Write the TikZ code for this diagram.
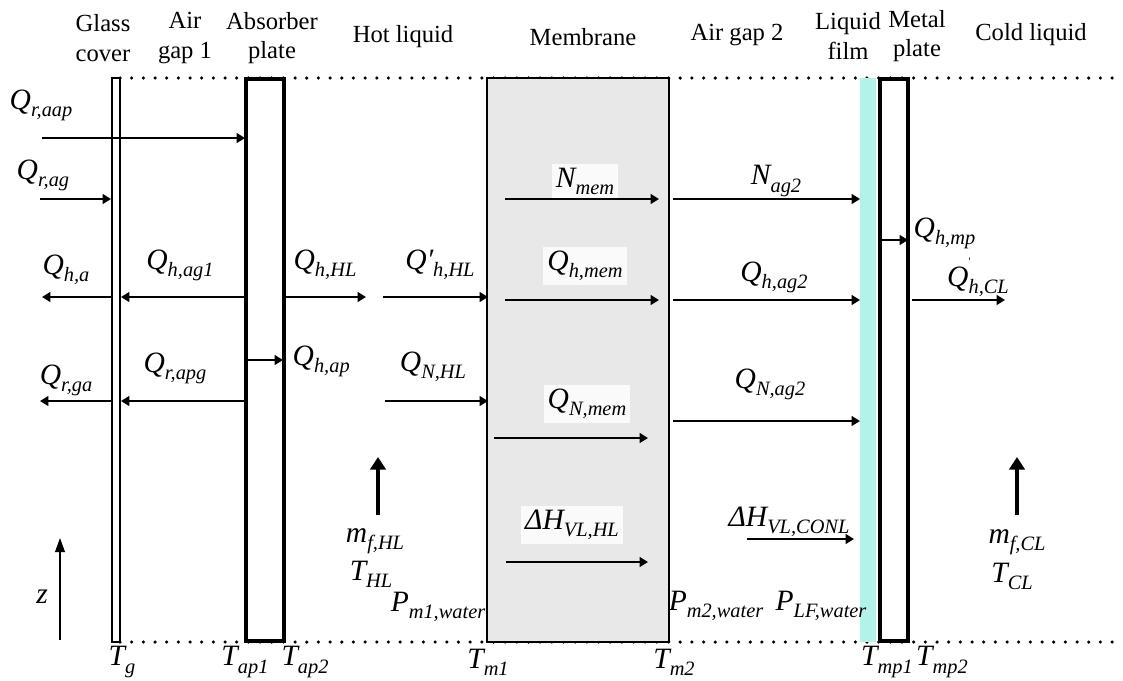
\documentclass[tikz,border=0pt]{standalone}
\usepackage{fontspec}
\setmainfont{Liberation Serif}
\usetikzlibrary{arrows.meta}
\definecolor{filmcyan}{HTML}{B2F2E8}
\newcommand\lbl[2]{#1\raisebox{-5pt}{\fontsize{14.5}{14.5}\selectfont #2}}

\begin{document}
\begin{tikzpicture}[x=0.025cm, y=-0.025cm,
  head/.style={font=\fontsize{17.5}{21}\selectfont, align=center},
  sym/.style={font=\fontsize{21}{23}\selectfont\itshape, inner sep=1pt},
  memsym/.style={sym, fill=black!2, inner sep=3pt},
  flow/.style={->, line width=1.4pt},
  bulk/.style={->, line width=3pt, >={Triangle[length=9pt,width=11pt]}},
  plate/.style={draw, line width=2.8pt, fill=white},
  dotline/.style={line width=2.5pt, dash pattern=on 0pt off 8.3pt, line cap=round},
  >={Triangle[length=6pt,width=7pt]}]
\useasboundingbox (0,0) rectangle (1123,680);
% layers
\draw[dotline] (120,78) -- (1123,78);
\draw[dotline] (120,642) -- (1123,642);
\draw[line width=1.2pt, fill=white] (112,78) rectangle (120,642);
\draw[plate] (246,79) rectangle (284,641);
\draw[line width=1.2pt, fill=black!9] (487,78) rectangle (669,642);
\fill[filmcyan] (860,78) rectangle (876,642);
\draw[plate] (880,79) rectangle (908,641);
% headers
\node[head] (hglass) at (103,38) {Glass\\cover};
\node[head] (hgap1) at (185,38) {Air\\gap 1};
\node[head] (hap) at (272,38) {Absorber\\plate};
\node[head] (hhl) at (403,37) {Hot liquid};
\node[head] (hmem) at (583,37) {Membrane};
\node[head] (hgap2) at (737,35) {Air gap 2};
\node[head] (hfilm) at (848,36) {Liquid\\film};
\node[head] (hmp) at (917,36) {Metal\\plate};
\node[head] (hcl) at (1031,35) {Cold liquid};
% fluxes
\node[sym, anchor=west] (qraap) at (8,105) {\lbl{Q}{r,aap}};
\node[sym, anchor=west] (qrag) at (15,175) {\lbl{Q}{r,ag}};
\node[sym] (qha) at (66,270) {\lbl{Q}{h,a}};
\node[sym] (qhag1) at (180,265) {\lbl{Q}{h,ag1}};
\node[sym] (qhhl) at (325,265) {\lbl{Q}{h,HL}};
\node[sym] (qphhl) at (440,265) {\lbl{Q′}{h,HL}};
\node[sym, anchor=west] (qhap) at (291,361) {\lbl{Q}{h,ap}};
\node[sym] (qrga) at (66,380) {\lbl{Q}{r,ga}};
\node[sym] (qrapg) at (175,368) {\lbl{Q}{r,apg}};
\node[sym] (qnhl) at (433,367) {\lbl{Q}{N,HL}};
\node[memsym] (nmem) at (585,181) {\lbl{N}{mem}};
\node[sym] (nag2) at (776,181) {\lbl{N}{ag2}};
\node[memsym] (qhmem) at (585,266) {\lbl{Q}{h,mem}};
\node[sym] (qhag2) at (774,277) {\lbl{Q}{h,ag2}};
\node[sym, anchor=west] (qhmp) at (912,233) {\lbl{Q}{h,mp}};
\node[sym] (qhcl) at (978,277)
  {\lbl{Q\rlap{\raisebox{15pt}{\fontsize{8}{8}\selectfont\upshape\textquotesingle}}}{h,CL}};
\node[memsym] (qnmem) at (587,404) {\lbl{Q}{N,mem}};
\node[sym] (qnag2) at (770,384) {\lbl{Q}{N,ag2}};
\node[memsym] (dhhl) at (572,525) {\lbl{ΔH}{VL,HL}};
\node[sym] (dhconl) at (789,522) {\lbl{ΔH}{VL,CONL}};
% streams
\node[sym] (mfhl) at (375,541) {\lbl{m}{f,HL}};
\node[sym] (thl) at (371,574) {\lbl{T}{HL}};
\node[sym] (pm1) at (438,607) {\lbl{P}{m1,water}};
\node[sym] (pm2) at (716,606) {\lbl{P}{m2,water}};
\node[sym] (plf) at (821,606) {\lbl{P}{LF,water}};
\node[sym] (mfcl) at (1017,542) {\lbl{m}{f,CL}};
\node[sym] (tcl) at (1012,576) {\lbl{T}{CL}};
\node[sym] (z) at (42,597) {z};
% temperatures
\node[sym] (tg) at (122,662) {\lbl{T}{g}};
\node[sym] (tap1) at (245,662) {\lbl{T}{ap1}};
\node[sym] (tap2) at (305,662) {\lbl{T}{ap2}};
\node[sym] (tm1) at (488,662) {\lbl{T}{m1}};
\node[sym] (tm2) at (674,662) {\lbl{T}{m2}};
\node[sym] (tmp1) at (887,662) {\lbl{T}{mp1}};
\node[sym] (tmp2) at (942,662) {\lbl{T}{mp2}};
% arrows
\draw[flow] (42,138) -- (245,138);
\draw[flow] (40,199) -- (111,199);
\draw[flow] (112,297) -- (42,297);
\draw[flow] (245,297) -- (121,297);
\draw[flow] (284,297) -- (366,297);
\draw[flow] (383,297) -- (488,297);
\draw[flow] (245,360) -- (283,360);
\draw[flow] (112,401) -- (40,401);
\draw[flow] (245,401) -- (121,401);
\draw[flow] (385,401) -- (488,401);
\draw[flow] (505,199) -- (659,199);
\draw[flow] (673,199) -- (860,199);
\draw[flow] (505,300) -- (659,300);
\draw[flow] (673,300) -- (860,300);
\draw[flow] (881,240) -- (908,240);
\draw[flow] (912,300) -- (1005,300);
\draw[flow] (494,438) -- (648,438);
\draw[flow] (673,421) -- (860,421);
\draw[flow] (506,562) -- (648,562);
\draw[flow] (747,539) -- (854,539);
\draw[bulk] (378,515) -- (378,457);
\draw[bulk] (1017,515) -- (1017,457);
\draw[->, line width=0.8pt, >={Triangle[length=10pt,width=7pt]}] (60,640) -- (60,538);
\end{tikzpicture}
\end{document}
